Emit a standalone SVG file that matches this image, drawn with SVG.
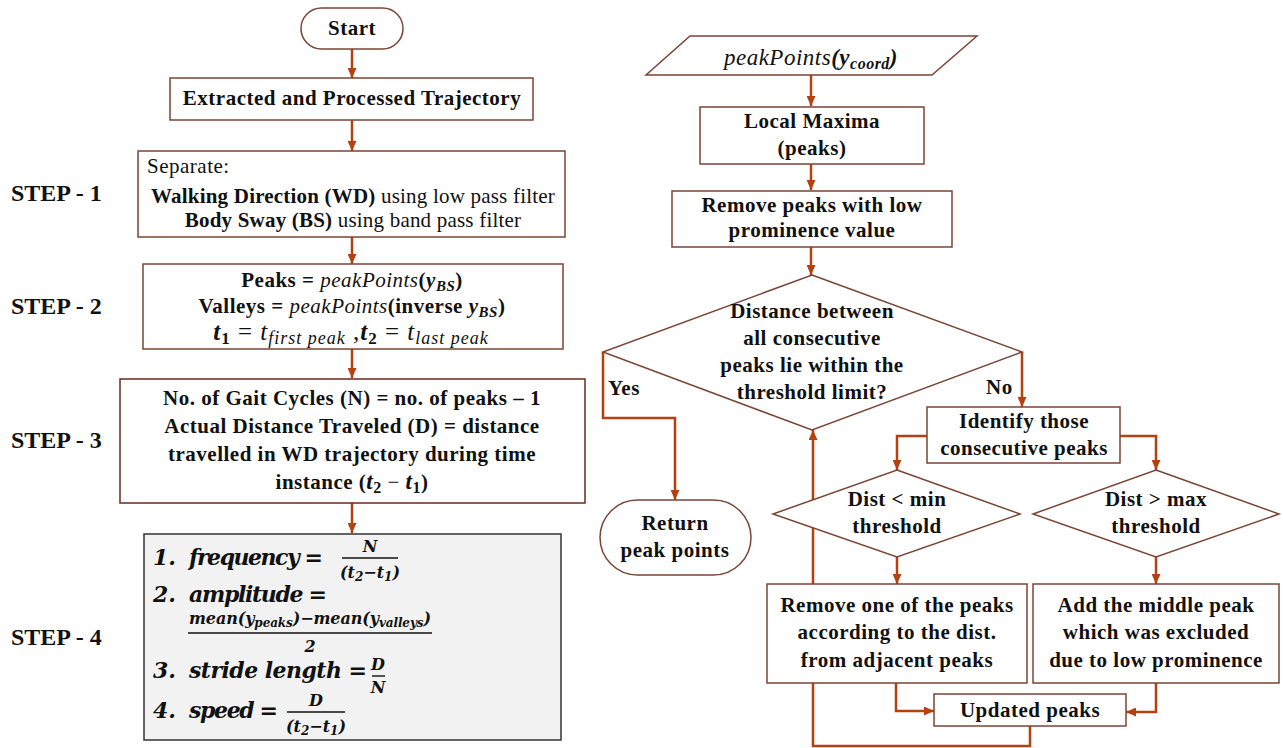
<svg xmlns="http://www.w3.org/2000/svg" width="1283" height="748" viewBox="0 0 1283 748">
<style>
.t{font-family:"Liberation Serif",serif;font-size:21px;font-weight:bold;fill:#111;text-anchor:middle;letter-spacing:0.5px}
.s{font-family:"Liberation Serif",serif;font-size:24px;font-weight:bold;fill:#111}
.n{fill:#fff;stroke:#7a4535;stroke-width:1.5}
.c{fill:none;stroke:#b5410f;stroke-width:2.5}
.m{font-family:"DejaVu Serif",serif;font-weight:bold;font-style:italic;fill:#111}
.r{font-weight:normal}
.i{font-style:italic;font-weight:normal}
.bi{font-style:italic}
</style>
<defs>
<marker id="a" markerWidth="10" markerHeight="9" refX="10" refY="4.5" orient="auto" markerUnits="userSpaceOnUse">
<path d="M0,0 L10,4.5 L0,9 Z" fill="#b5410f"/>
</marker>
</defs>
<rect width="1283" height="748" fill="#fff"/>

<g id="step-labels">
<text class="s" x="11" y="201">STEP - 1</text>
<text class="s" x="11" y="314">STEP - 2</text>
<text class="s" x="11" y="448">STEP - 3</text>
<text class="s" x="11" y="645">STEP - 4</text>
</g>

<g id="connectors">
<path class="c" d="M352,49 V78" marker-end="url(#a)"/>
<path class="c" d="M352,120 V151" marker-end="url(#a)"/>
<path class="c" d="M352,237 V264" marker-end="url(#a)"/>
<path class="c" d="M352,349 V378" marker-end="url(#a)"/>
<path class="c" d="M352,503 V533" marker-end="url(#a)"/>
<path class="c" d="M811,75 V106" marker-end="url(#a)"/>
<path class="c" d="M811,164 V190" marker-end="url(#a)"/>
<path class="c" d="M811,247 V275" marker-end="url(#a)"/>
<path class="c" d="M603,352 V418 H675 V500" marker-end="url(#a)"/>
<path class="c" d="M1022,352 V407" marker-end="url(#a)"/>
<path class="c" d="M927,436 H897 V470" marker-end="url(#a)"/>
<path class="c" d="M1120,436 H1156 V470" marker-end="url(#a)"/>
<path class="c" d="M897,557 V584" marker-end="url(#a)"/>
<path class="c" d="M1156,557 V584" marker-end="url(#a)"/>
<path class="c" d="M896,683 V711 H934" marker-end="url(#a)"/>
<path class="c" d="M1156,683 V712 H1126" marker-end="url(#a)"/>
<path class="c" d="M1030,726 V746 H813 V430" marker-end="url(#a)"/>
<text class="t" x="608" y="395" style="text-anchor:start">Yes</text>
<text class="t" x="986" y="394" style="text-anchor:start">No</text>
</g>

<g id="start">
<rect class="n" x="301" y="8" width="102" height="41" rx="20.5"/>
<text class="t" x="352" y="35">Start</text>
</g>

<g id="extracted">
<rect class="n" x="170" y="78" width="363" height="42"/>
<text class="t" x="352" y="105">Extracted and Processed Trajectory</text>
</g>

<g id="step1">
<rect class="n" x="138" y="151" width="427" height="86"/>
<text class="t r" x="147" y="173" style="text-anchor:start">Separate:</text>
<text class="t" x="353" y="203" style="letter-spacing:0.2px">Walking Direction (WD)<tspan class="r"> using low pass filter</tspan></text>
<text class="t" x="353" y="227" style="letter-spacing:0.2px">Body Sway (BS)<tspan class="r"> using band pass filter</tspan></text>
</g>

<g id="step2">
<rect class="n" x="143" y="264" width="420" height="85"/>
<text class="t" x="352" y="287">Peaks = <tspan class="i">peakPoints</tspan>(<tspan class="bi">y</tspan><tspan class="bi" font-size="15" dy="4">BS</tspan><tspan dy="-4">)</tspan></text>
<text class="t" x="352" y="313">Valleys = <tspan class="i">peakPoints</tspan>(inverse <tspan class="bi">y</tspan><tspan class="bi" font-size="15" dy="4">BS</tspan><tspan dy="-4">)</tspan></text>
<text class="t" x="351" y="340" style="font-size:25px;letter-spacing:1px"><tspan class="bi">t</tspan><tspan font-size="17" dy="4">1</tspan><tspan class="r" dy="-4"> = </tspan><tspan class="i">t</tspan><tspan class="i" font-size="18" dy="4">first peak</tspan><tspan class="r" dy="-4"> ,</tspan><tspan class="bi">t</tspan><tspan font-size="17" dy="4">2</tspan><tspan class="r" dy="-4"> = </tspan><tspan class="i">t</tspan><tspan class="i" font-size="18" dy="4">last peak</tspan></text>
</g>

<g id="step3">
<rect class="n" x="120" y="379" width="465" height="124" style="stroke:#6a2a1c"/>
<text class="t" x="352" y="405">No. of Gait Cycles (N) = no. of peaks – 1</text>
<text class="t" x="352" y="433">Actual Distance Traveled (D) = distance</text>
<text class="t" x="352" y="461">travelled in WD trajectory during time</text>
<text class="t" x="352" y="489">instance (<tspan class="bi" font-size="23">t</tspan><tspan font-size="16" dy="4">2</tspan><tspan dy="-4" class="r"> − </tspan><tspan class="bi" font-size="23">t</tspan><tspan font-size="16" dy="4">1</tspan><tspan dy="-4">)</tspan></text>
</g>

<g id="step4">
<rect x="144" y="534" width="417" height="206" fill="#f2f2f2" stroke="#333" stroke-width="1.5"/>
<g class="m" font-size="22">
<text x="153" y="565">1.</text>
<text x="189" y="565" textLength="134" lengthAdjust="spacing">frequency =</text>
<text x="153" y="602">2.</text>
<text x="189" y="602" textLength="138" lengthAdjust="spacing">amplitude =</text>
<text x="153" y="678">3.</text>
<text x="189" y="678" textLength="178" lengthAdjust="spacing">stride length =</text>
<text x="153" y="718">4.</text>
<text x="189" y="718" textLength="89" lengthAdjust="spacing">speed =</text>
</g>
<g class="m" font-size="16" text-anchor="middle">
<text x="370" y="552">N</text>
<text x="370" y="578">(t<tspan font-size="12" dy="3">2</tspan><tspan dy="-3">−t</tspan><tspan font-size="12" dy="3">1</tspan><tspan dy="-3">)</tspan></text>
<text x="310" y="624" textLength="242" lengthAdjust="spacing">mean(y<tspan font-size="12" dy="3">peaks</tspan><tspan dy="-3">)−mean(y</tspan><tspan font-size="12" dy="3">valleys</tspan><tspan dy="-3">)</tspan></text>
<text x="310" y="652">2</text>
<text x="378" y="670">D</text>
<text x="378" y="693">N</text>
<text x="316" y="706">D</text>
<text x="316" y="732">(t<tspan font-size="12" dy="3">2</tspan><tspan dy="-3">−t</tspan><tspan font-size="12" dy="3">1</tspan><tspan dy="-3">)</tspan></text>
</g>
<g stroke="#111" stroke-width="1.4">
<line x1="342" y1="558" x2="398" y2="558"/>
<line x1="188" y1="633" x2="432" y2="633"/>
<line x1="372" y1="676" x2="385" y2="676"/>
<line x1="287" y1="712" x2="345" y2="712"/>
</g>
</g>

<g id="input">
<path class="n" d="M690,36 H977 L932,75 H646 Z"/>
<text class="t i" x="811" y="65" style="font-size:23px">peakPoints<tspan class="bi" style="font-weight:bold">(y</tspan><tspan class="bi" style="font-weight:bold" font-size="16" dy="4">coord</tspan><tspan style="font-weight:bold" dy="-4">)</tspan></text>
</g>

<g id="local-maxima">
<rect class="n" x="700" y="107" width="224" height="57"/>
<text class="t" x="812" y="128">Local Maxima</text>
<text class="t" x="812" y="155">(peaks)</text>
</g>

<g id="remove-low">
<rect class="n" x="672" y="191" width="280" height="56"/>
<text class="t" x="812" y="212">Remove peaks with low</text>
<text class="t" x="812" y="237">prominence value</text>
</g>

<g id="decision">
<path class="n" d="M812,275 L1022,352 L812,430 L603,352 Z"/>
<text class="t" x="812" y="318">Distance between</text>
<text class="t" x="812" y="345">all consecutive</text>
<text class="t" x="812" y="372">peaks lie within the</text>
<text class="t" x="812" y="399">threshold limit?</text>
</g>

<g id="return">
<rect class="n" x="600" y="500" width="151" height="75" rx="37.5"/>
<text class="t" x="675" y="530">Return</text>
<text class="t" x="675" y="557">peak points</text>
</g>

<g id="identify">
<rect class="n" x="927" y="407" width="193" height="56"/>
<text class="t" x="1024" y="428">Identify those</text>
<text class="t" x="1024" y="455">consecutive peaks</text>
</g>

<g id="dist-min">
<path class="n" d="M897,470 L1020,514 L897,557 L773,514 Z"/>
<text class="t" x="897" y="506">Dist &lt; min</text>
<text class="t" x="897" y="533">threshold</text>
</g>

<g id="dist-max">
<path class="n" d="M1156,470 L1279,514 L1156,557 L1033,514 Z"/>
<text class="t" x="1156" y="506">Dist &gt; max</text>
<text class="t" x="1156" y="533">threshold</text>
</g>

<g id="remove-one">
<rect class="n" x="767" y="584" width="260" height="99"/>
<text class="t" x="897" y="612">Remove one of the peaks</text>
<text class="t" x="897" y="639">according to the dist.</text>
<text class="t" x="897" y="667">from adjacent peaks</text>
</g>

<g id="add-middle">
<rect class="n" x="1033" y="584" width="246" height="99"/>
<text class="t" x="1156" y="612">Add the middle peak</text>
<text class="t" x="1156" y="639">which was excluded</text>
<text class="t" x="1156" y="667">due to low prominence</text>
</g>

<g id="updated">
<rect class="n" x="934" y="694" width="192" height="32"/>
<text class="t" x="1030" y="717">Updated peaks</text>
</g>
</svg>
